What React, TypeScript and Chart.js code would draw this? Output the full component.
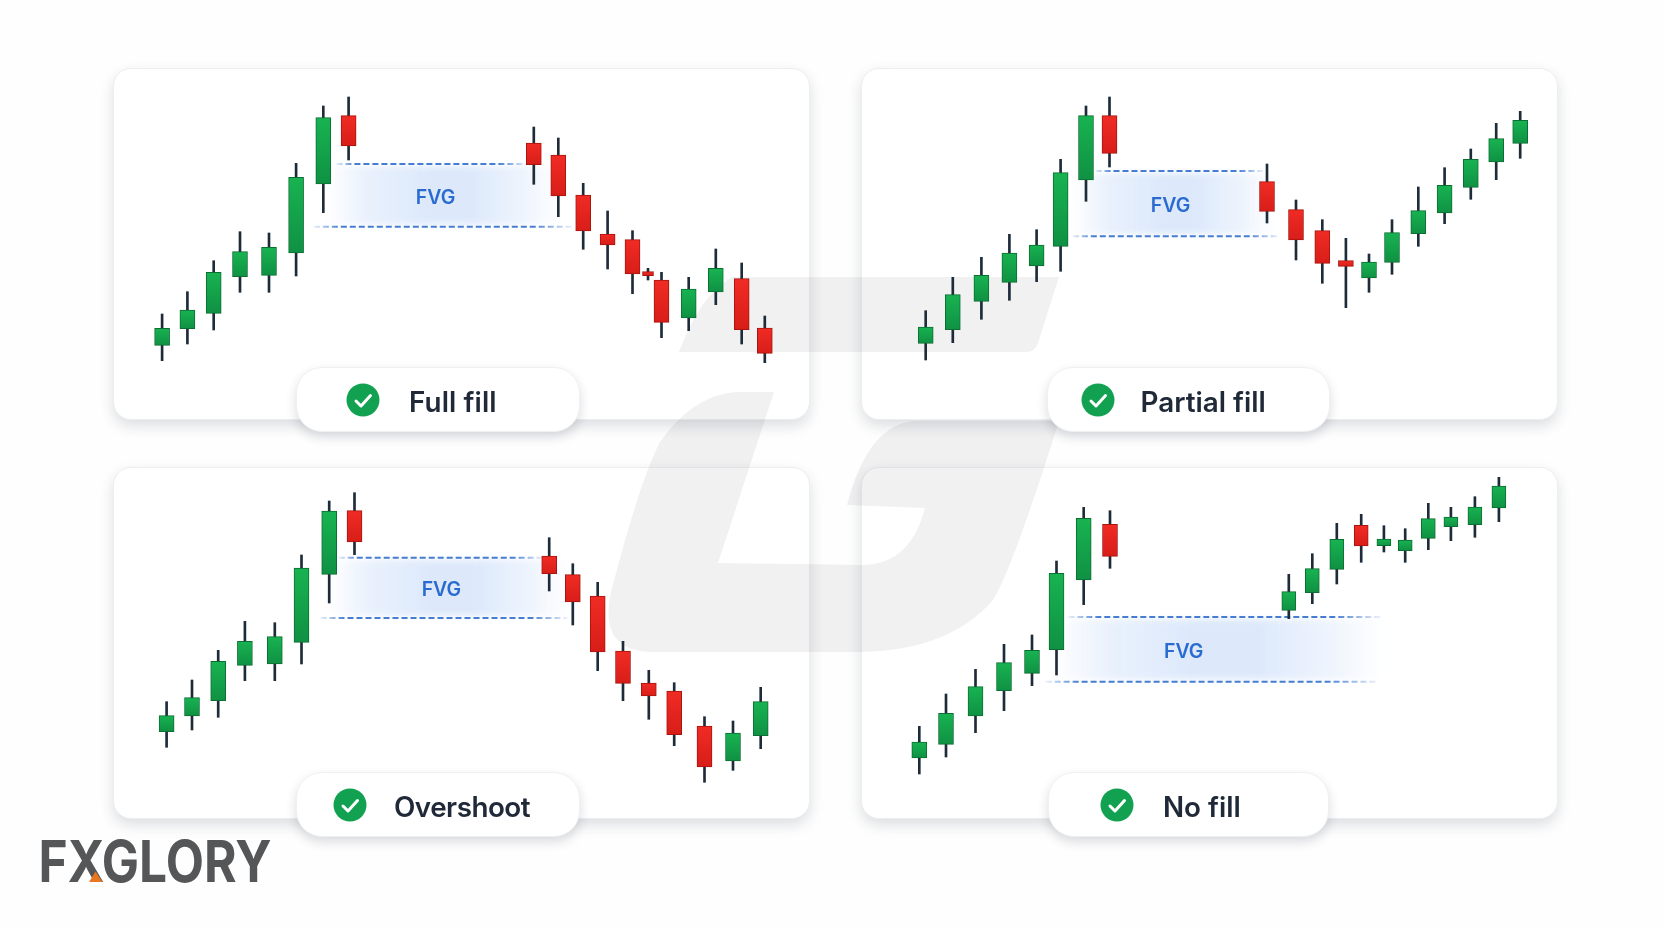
import React, { useEffect, useRef } from "react";
import { Chart, registerables } from "chart.js";

Chart.register(...registerables);

// ---- Panel 1: Full fill
const fullTimes = [48.1, 73.4, 99.7, 126, 155, 182.1, 209.3, 234.6, 419.8, 444.3, 469.2, 493.6, 518.5, 534, 547.5, 574.7, 601.8, 627.7, 650.8];
const fullOpen = [73.7, 90.3, 105.7, 142.3, 143.7, 166, 235, 303.3, 276, 264, 224, 185, 179.3, 147.3, 139, 101, 127, 140.3, 91];
const fullClose = [90.7, 109, 146.7, 167.3, 171.7, 241.7, 301.3, 273, 254.3, 223, 188, 174, 145, 143.3, 96.7, 130, 150.7, 89.3, 65.7];
const fullHigh = [105, 127.3, 158.3, 187.3, 186, 255.7, 313, 322, 292, 281, 235.7, 208, 188.3, 150.7, 146.7, 141.7, 170, 156, 103];
const fullLow = [58.3, 75, 89, 126.7, 126.7, 143, 206.3, 259, 234.7, 202.3, 169.7, 150, 125.3, 139, 81.3, 88.3, 114.3, 75, 56.3];

// ---- Panel 2: Partial fill
const partialTimes = [63.7, 90.8, 119.4, 147.4, 174.6, 198.6, 224, 247.5, 405, 434, 460.3, 483.9, 507, 530, 556.3, 582.6, 608.8, 634.2, 658.2];
const partialOpen = [75.7, 89.3, 117.7, 136.7, 153, 172.7, 239, 303.3, 237.3, 209.3, 188.3, 158.3, 141, 156.7, 185.3, 206, 231.7, 257, 275.7];
const partialClose = [92, 124.3, 143.7, 166, 174, 246.3, 303.3, 265.7, 207.7, 179, 155.7, 152.7, 157, 186.3, 208.3, 233.7, 259.7, 280.3, 298.7];
const partialHigh = [108.3, 141.7, 161.7, 184.7, 189.3, 259.7, 313, 322, 255, 219, 199.3, 180.7, 165, 199.3, 232, 251.3, 270, 295.7, 307.7];
const partialLow = [59, 76.3, 99.7, 118.7, 137.3, 147.7, 217.7, 252, 196, 159, 135.7, 111.3, 126.7, 144.7, 172.7, 195.3, 219.7, 239.3, 260.7];

// ---- Panel 3: Overshoot
const overTimes = [52.6, 78, 104.2, 130.9, 160.8, 187.5, 215.2, 240.5, 435.2, 458.8, 483.7, 509, 534.8, 560.2, 590.5, 619, 646.7];
const overOpen = [86.3, 102, 117.3, 152.7, 154, 175.7, 243.7, 307.3, 262, 243.3, 222, 167, 135, 127, 92, 57, 82.3];
const overClose = [102.3, 120.3, 156.7, 176.7, 181.3, 250, 307, 276, 244.3, 216, 166, 134.7, 122, 83.3, 51, 85, 116.3];
const overHigh = [116.3, 138, 167.7, 196.7, 195.3, 263, 317, 325.3, 280.3, 254.3, 235.7, 176.7, 147.7, 135.3, 101.3, 97, 130.7];
const overLow = [70.7, 88, 100.7, 137.3, 137.3, 154, 215, 263.3, 227, 193, 147.3, 117.3, 98.7, 72.3, 35.7, 47.7, 69.3];

// ---- Panel 4: No fill
const noTimes = [57.3, 84, 113.5, 142, 170, 194.5, 221.7, 248, 426.8, 450.3, 474.8, 499.2, 521.9, 543.2, 566.3, 588.9, 612.9, 636.9];
const noOpen = [60, 73.7, 102, 127.3, 144.7, 168.3, 238, 293.7, 207.7, 225.3, 248.7, 292.7, 272.3, 267.3, 279.7, 291.3, 293.3, 310];
const noClose = [76, 104.7, 131.3, 155.3, 167.7, 244.7, 299.7, 261.7, 226.3, 249.3, 278.7, 272, 279, 278, 299.3, 301, 311, 332];
const noHigh = [91.7, 124, 148.7, 173.7, 183, 257, 310.7, 307.3, 243.7, 264.3, 294.7, 303.7, 292.3, 289.3, 314.7, 310.7, 321.3, 340.7];
const noLow = [44, 61, 85.3, 107.3, 132.3, 143, 213.3, 249.7, 199.3, 214.3, 234, 255.7, 266, 255.7, 268.3, 277.3, 280.7, 296.3];

// ---- Gap levels and their extents [top price, bottom price]
const fullGap = [255, 192.3];
const partialGap = [248, 182.7];
const overGap = [260.3, 200];
const noGap = [201, 136.3];
const fullGapTop = [222.4, 412.6];
const fullGapBottom = [199.8, 457.9];
const partialGapTop = [233.5, 401];
const partialGapBottom = [210.8, 416.8];
const overGapTop = [224.7, 428.4];
const overGapBottom = [206.5, 453.3];
const noGapTop = [206.3, 518.7];
const noGapBottom = [183.6, 514.2];
const gapLabel = "FVG";

const panelTitles = ["Full fill", "Partial fill", "Overshoot", "No fill"];

const GREEN_TOP = "#18b351";
const GREEN_LOW = "#0f9143";
const GREEN_EDGE = "#0b6e33";
const RED_TOP = "#f02c24";
const RED_LOW = "#d81d18";
const RED_EDGE = "#a8140e";
const WICK = "#1e2b38";

type Panel = {
  times: number[]; open: number[]; close: number[]; high: number[]; low: number[];
  gap: number[]; gapTop: number[]; gapBottom: number[]; fillRange: number[]; labelAt: number[];
  narrow: number[]; narrowWidth: number;
  left: number; top: number;
  pill: number[]; check: number[]; textLeft: number; textMid: number; tracking: number;
};

const panels: Panel[] = [
  { times: fullTimes, open: fullOpen, close: fullClose, high: fullHigh, low: fullLow, gap: fullGap, gapTop: fullGapTop, gapBottom: fullGapBottom,
    fillRange: [212, 448], labelAt: [321.6, 221.3], narrow: [13], narrowWidth: 11, left: 114, top: 68, pill: [295.5, 366.5, 284.5, 65.5], check: [362.7, 400], textLeft: 409, textMid: 402, tracking: 0.1 },
  { times: partialTimes, open: partialOpen, close: partialClose, high: partialHigh, low: partialLow, gap: partialGap, gapTop: partialGapTop, gapBottom: partialGapBottom,
    fillRange: [210, 414], labelAt: [308.6, 213], narrow: [], narrowWidth: 15, left: 862, top: 68, pill: [1046.5, 366.5, 283, 65.5], check: [1098, 400], textLeft: 1140.5, textMid: 402, tracking: 0 },
  { times: overTimes, open: overOpen, close: overClose, high: overHigh, low: overLow, gap: overGap, gapTop: overGapTop, gapBottom: overGapBottom,
    fillRange: [214, 456], labelAt: [327.4, 228], narrow: [], narrowWidth: 15, left: 114, top: 467, pill: [295.5, 771.5, 284.5, 65.5], check: [350.4, 805], textLeft: 394, textMid: 807, tracking: -0.5 },
  { times: noTimes, open: noOpen, close: noClose, high: noHigh, low: noLow, gap: noGap, gapTop: noGapTop, gapBottom: noGapBottom,
    fillRange: [190, 522], labelAt: [321.7, 166], narrow: [8, 9, 10, 11, 12, 13, 14, 15, 16, 17], narrowWidth: 14, left: 862, top: 467, pill: [1048, 771.5, 280.5, 65.5], check: [1117, 805], textLeft: 1163, textMid: 807, tracking: 0 },
];

const CARD_W = 695;
const CARD_H = 351;

const gapPlugin = {
  id: "gapZone",
  beforeDatasetsDraw(chart: any, _a: any, opts: any) {
    const { ctx, scales } = chart;
    const p: Panel = opts.panel;
    const x0 = scales.x.getPixelForValue(p.fillRange[0]);
    const x1 = scales.x.getPixelForValue(p.fillRange[1]);
    const y0 = scales.y.getPixelForValue(p.gap[0]);
    const y1 = scales.y.getPixelForValue(p.gap[1]);
    const g = ctx.createLinearGradient(x0, 0, x1, 0);
    g.addColorStop(0, "rgba(221,233,251,0)");
    g.addColorStop(0.18, "rgba(221,233,251,0.65)");
    g.addColorStop(0.42, "rgba(221,233,251,1)");
    g.addColorStop(0.62, "rgba(221,233,251,1)");
    g.addColorStop(0.85, "rgba(221,233,251,0.45)");
    g.addColorStop(1, "rgba(221,233,251,0)");
    ctx.save();
    ctx.filter = "blur(3px)";
    ctx.fillStyle = g;
    ctx.fillRect(x0, y0 + 2, x1 - x0, y1 - y0 - 4);
    ctx.restore();
  },
  afterDatasetsDraw(chart: any, _a: any, opts: any) {
    const { ctx, scales } = chart;
    const p: Panel = opts.panel;
    ctx.save();
    ctx.font = '600 19.5px Inter, "Noto Sans", sans-serif';
    ctx.fillStyle = "#2a6bd0";
    ctx.textAlign = "center";
    ctx.textBaseline = "middle";
    ctx.fillText(gapLabel, scales.x.getPixelForValue(p.labelAt[0]), scales.y.getPixelForValue(p.labelAt[1]));
    ctx.restore();
  },
};

function fadeStroke(range: number[]) {
  return (c: any) => {
    const xs = c.chart.scales.x;
    if (!xs || !c.chart.chartArea) return "#467dd0";
    const a = xs.getPixelForValue(range[0]);
    const b = xs.getPixelForValue(range[1]);
    if (!Number.isFinite(a) || !Number.isFinite(b)) return "#467dd0";
    const g = c.chart.ctx.createLinearGradient(a, 0, b, 0);
    g.addColorStop(0, "rgba(70,125,208,0.1)");
    g.addColorStop(0.1, "rgba(70,125,208,1)");
    g.addColorStop(0.85, "rgba(70,125,208,1)");
    g.addColorStop(1, "rgba(70,125,208,0.1)");
    return g;
  };
}

function bodyFill(c: any) {
  const raw = c.raw;
  const chart = c.chart;
  if (!raw || !chart.scales.y) return GREEN_TOP;
  const rising = raw.y[1] >= raw.y[0];
  const a = chart.scales.y.getPixelForValue(Math.max(raw.y[0], raw.y[1]));
  const b = chart.scales.y.getPixelForValue(Math.min(raw.y[0], raw.y[1]));
  if (!Number.isFinite(a) || !Number.isFinite(b)) return rising ? GREEN_TOP : RED_TOP;
  const g = chart.ctx.createLinearGradient(0, a, 0, b + 0.01);
  g.addColorStop(0, rising ? GREEN_TOP : RED_TOP);
  g.addColorStop(1, rising ? GREEN_LOW : RED_LOW);
  return g;
}

function PanelChart({ panel }: { panel: Panel }) {
  const ref = useRef<HTMLCanvasElement>(null);
  useEffect(() => {
    if (!ref.current) return;
    const up = panel.times.map((_, i) => panel.close[i] >= panel.open[i]);
    const idx = panel.times.map((_, i) => i);
    const isNarrow = (i: number) => panel.narrow.includes(i);
    const wide = idx.filter((i) => !isNarrow(i));
    const thin = idx.filter(isNarrow);
    const bodies = (list: number[], width: number, order: number) => ({
      type: "bar",
      data: list.map((i) => ({ x: panel.times[i], y: [panel.open[i], panel.close[i]] })),
      backgroundColor: bodyFill,
      borderColor: list.map((i) => (up[i] ? GREEN_EDGE : RED_EDGE)),
      borderWidth: 1,
      borderSkipped: false,
      barThickness: width,
      grouped: false,
      order,
    });
    const chart = new Chart(ref.current, {
      type: "bar",
      data: {
        datasets: [
          {
            type: "line",
            data: panel.gapTop.map((x) => ({ x, y: panel.gap[0] })),
            borderColor: fadeStroke(panel.gapTop),
            borderWidth: 2,
            borderDash: [6, 3],
            pointRadius: 0,
            order: 5,
          },
          {
            type: "line",
            data: panel.gapBottom.map((x) => ({ x, y: panel.gap[1] })),
            borderColor: fadeStroke(panel.gapBottom),
            borderWidth: 2,
            borderDash: [6, 3],
            pointRadius: 0,
            order: 5,
          },
          {
            type: "bar",
            data: idx.map((i) => ({ x: panel.times[i], y: [panel.low[i], panel.high[i]] })),
            backgroundColor: WICK,
            borderWidth: 0,
            barThickness: 2,
            grouped: false,
            order: 4,
          },
          bodies(wide, 15, 3),
          bodies(thin, panel.narrowWidth, 2),
        ] as any,
      },
      options: {
        responsive: false,
        animation: false,
        parsing: { xAxisKey: "x", yAxisKey: "y" } as any,
        layout: { padding: 0 },
        events: [],
        plugins: { legend: { display: false }, tooltip: { enabled: false }, title: { display: false }, gapZone: { panel } } as any,
        scales: {
          x: { type: "linear", min: 0, max: CARD_W, offset: false, display: false },
          y: { type: "linear", min: 0, max: CARD_H, display: false },
        },
      },
      plugins: [gapPlugin],
    } as any);
    return () => chart.destroy();
  }, [panel]);
  return (
    <canvas
      ref={ref}
      width={CARD_W}
      height={CARD_H}
      style={{ position: "absolute", left: panel.left, top: panel.top, width: CARD_W, height: CARD_H, zIndex: 2, display: "block" }}
    />
  );
}

const watermark =
  "M1059 277 L1038 343 Q1035 352 1026 352 L679 352 Q700 295 732 277 Z " +
  "M774 392 L735 392 Q692 396 660 442 Q640 480 611 592 Q598 650 650 652 L862 652 Q950 650 993 600 Q1012 570 1059 421 L915 421 Q868 424 847 505 L925 508 Q910 565 862 565 L718 563 Z";

export default function App() {
  return (
    <div style={{ position: "fixed", left: 0, top: 0, width: 1664, height: 928, background: "#fefefe", overflow: "hidden", fontFamily: "Inter, sans-serif" }}>
      {panels.map((p, i) => (
        <div key={i} style={{ position: "absolute", left: p.left - 1, top: p.top - 0.5, width: CARD_W + 2, height: CARD_H + 1.5, boxSizing: "border-box", background: "#ffffff", borderRadius: 18, border: "1px solid #eceef0", boxShadow: "0 6px 14px rgba(30,40,60,0.15)", zIndex: 0 }} />
      ))}
      <svg width={1664} height={928} style={{ position: "absolute", left: 0, top: 0, zIndex: 1 }}>
        <path d={watermark} fill="rgba(20,20,30,0.06)" />
      </svg>
      {panels.map((p, i) => (
        <PanelChart key={i} panel={p} />
      ))}
      {panels.map((p, i) => (
        <React.Fragment key={i}>
          <div style={{ position: "absolute", left: p.pill[0], top: p.pill[1], width: p.pill[2], height: p.pill[3], boxSizing: "border-box", background: "#fff", borderRadius: 26, border: "1px solid #eef0f2", boxShadow: "0 5px 11px rgba(30,40,60,0.16)", zIndex: 3 }} />
          <svg width={34} height={34} viewBox="0 0 34 34" style={{ position: "absolute", left: p.check[0] - 17, top: p.check[1] - 17, zIndex: 4 }}>
            <circle cx={17} cy={17} r={16.5} fill="#12a150" />
            <path d="M10 18 L15 23 L24.5 12.5" fill="none" stroke="#fff" strokeWidth={3} strokeLinecap="round" strokeLinejoin="round" />
          </svg>
          <span style={{ position: "absolute", left: p.textLeft, top: p.textMid - 20, height: 40, lineHeight: "40px", fontSize: 27.8, fontWeight: 600, letterSpacing: p.tracking, color: "#1f2937", whiteSpace: "nowrap", zIndex: 4 }}>{panelTitles[i]}</span>
        </React.Fragment>
      ))}
      <svg width={300} height={70} style={{ position: "absolute", left: 20, top: 825, zIndex: 4 }}>
        <text x={18.5} y={57} fontFamily="Inter, sans-serif" fontWeight={700} fontSize={58} fill="#555657" textLength={233} lengthAdjust="spacingAndGlyphs">FXGLORY</text>
        <path d="M69 57 L75.5 46.5 L82.5 57 Z" fill="#e87722" />
      </svg>
    </div>
  );
}
